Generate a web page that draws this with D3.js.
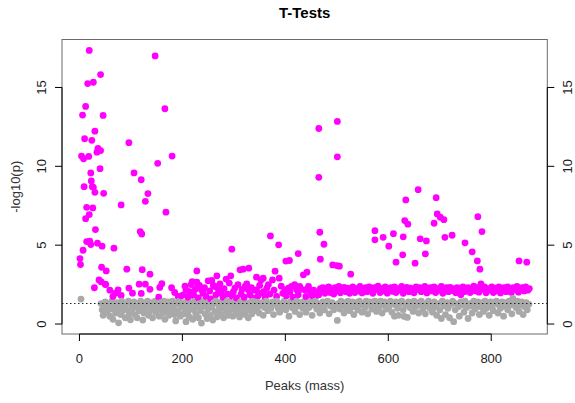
<!DOCTYPE html>
<html><head><meta charset="utf-8">
<script src="https://cdn.jsdelivr.net/npm/d3@7"></script>
<style>html,body{margin:0;padding:0;background:#fff;}svg{display:block;}</style>
</head><body>
<svg id="chart" width="575" height="403"></svg>
<script>
// ---- data ----
const title = "T-Tests";
const xLabel = "Peaks (mass)";
const yLabel = "-log10(p)";
const xTicks = [0, 200, 400, 600, 800];
const yTicks = [0, 5, 10, 15];
const threshold = 1.30103; // -log10(0.05)

// significant peaks, larger effects [peak, -log10(p)]
const sigHigh = [[1,4.15],[2,3.77],[4,10.65],[6,13.25],[7,4.68],[8,10.48],[9,8.71],[10,11.75],[12,13.8],[12,6.68],[14,7.4],[14,5.23],[16,15.25],[18,10.63],[19,17.35],[19,6.94],[20,5.25],[22,9.58],[22,5.04],[23,9.07],[24,11.65],[25,8.71],[26,7.36],[27,15.33],[27,8.67],[29,2.3],[30,12.23],[30,8.35],[31,5.99],[34,10.9],[35,5.13],[36,11.14],[38,2.8],[40,9.85],[41,15.82],[41,11.0],[42,2.68],[43,3.6],[44,4.94],[46,13.23],[47,8.29],[50,2.53],[51,2.5],[52,3.37],[67,4.81],[81,7.55],[92,3.48],[96,11.5],[106,9.58],[118,5.86],[120,9.15],[121,5.71],[122,3.45],[128,7.78],[133,8.27],[137,3.16],[147,17.0],[152,10.19],[166,13.65],[168,7.09],[180,10.65],[228,3.37],[296,4.75],[312,3.44],[318,3.48],[329,3.54],[344,2.97],[357,2.91],[353,2.8],[371,5.59],[375,2.8],[380,3.35],[387,5.02],[388,2.91],[401,3.99],[408,4.03],[425,4.47],[435,3.12],[442,3.29],[465,12.4],[465,9.3],[467,5.82],[468,4.11],[475,5.06],[501,12.85],[501,10.6],[492,3.75],[500,3.71],[505,3.67],[527,3.16],[574,5.92],[574,5.34],[590,5.5],[601,4.94],[610,5.73],[615,3.92],[628,4.39],[629,5.53],[632,6.56],[634,7.87],[638,6.33],[652,3.86],[658,8.52],[662,5.4],[672,4.45],[674,5.27],[689,6.39],[693,8.01],[695,6.98],[701,6.77],[708,6.62],[710,5.5],[724,5.63],[749,5.15],[763,4.58],[773,4.0],[774,6.81],[778,3.48],[782,5.86],[854,4.0],[869,3.92]];

// significant peaks just above the cut-off [peak, -log10(p)]
const sigBand = [[59,2.15],[65,1.75],[70,1.96],[75,2.17],[81,1.81],[96,2.28],[103,1.96],[116,2.53],[120,1.94],[128,2.53],[137,2.2],[154,1.71],[156,2.32],[160,2.56],[179,2.3],[185,2.0],[192,1.75],[198,1.79],[207,2.17],[221,1.96],[228,2.28],
[219,2.68],[228,2.66],[237,2.17],[240,1.96],[250,2.74],[257,2.76],[267,3.06],[263,2.38],[270,2.17],[276,1.96],[285,2.85],[294,3.06],[302,2.28],[322,2.38],[328,2.17],[344,2.17],[354,1.96],[364,2.28],[399,2.17],[406,2.28],[412,2.38],[422,2.17],[428,2.38],[438,2.17],[445,2.38],
[202,1.85],[205,2.4],[211,1.7],[214,2.05],[217,2.5],[222,1.8],[225,2.2],[231,1.65],[233,2.45],[243,2.3],[246,1.75],[253,2.1],[255,1.6],[260,2.45],[265,1.85],[273,2.55],[279,1.7],[281,2.25],[288,1.9],[291,2.6],[297,1.75],[299,2.05],[305,1.65],[308,2.5],[314,1.9],[316,2.2],[320,1.7],[325,2.55],[331,1.85],[334,2.3],[337,1.65],[340,2.15],[347,1.8],[350,2.45],[358,2.05],[361,1.7],[367,2.5],[370,1.9],[378,2.15],[383,1.75],[392,2.4],[395,1.95],[402,1.8],[409,2.05],[415,1.7],[418,2.5],[425,1.85],[431,2.2],[440,1.75],[448,2.1],
[452,1.8],[455,2.15],[458,1.7],[462,2.0],[465,1.85],[468,2.25],
[470,2.1],[473,2.3],[477,1.95],[480,2.2],[484,2.35],[487,2.0],[490,2.25],[494,1.9],[497,2.3],[500,2.1],[504,2.38],[507,1.98],[511,2.2],[514,2.32],[518,2.05],[521,2.28],[525,1.95],[528,2.2],[531,2.35],[535,2.0],[538,2.25],[542,2.1],[545,2.38],[549,1.97],[552,2.22],[556,2.3],[559,2.05],[563,2.35],[566,2.15],[570,1.95],[573,2.3],[577,2.2],[580,2.4],[584,2.0],[587,2.25],[591,2.1],[594,2.36],[598,1.96],[601,2.22],[605,2.3],[608,2.08],[612,2.35],[615,2.0],[619,2.25],[622,2.15],[626,2.38],[629,1.95],[633,2.2],[636,2.32],[640,2.05],[643,2.28],[647,2.15],[650,1.98],[654,2.35],[657,2.2],[661,2.3],[664,2.05],[668,2.25],[671,2.38],[675,1.97],[678,2.2],[682,2.3],[685,2.1],[689,2.35],[692,2.0],[696,2.25],[699,2.15],[703,2.38],[706,1.95],[710,2.22],[713,2.3],[717,2.05],[720,2.33],[724,2.12],[727,2.25],[731,1.98],[734,2.3],[738,2.15],[741,1.85],[745,2.35],[748,2.05],[752,2.25],[755,2.3],[759,2.0],[762,2.2],[766,2.4],[769,2.1],[773,2.3],[776,2.02],[780,2.55],[783,2.2],[787,2.35],[790,1.98],[794,2.25],[797,2.15],[801,2.36],[804,2.0],[808,2.28],[811,2.1],[815,2.35],[818,1.97],[822,2.22],[825,2.3],[829,2.05],[832,2.35],[836,2.15],[839,2.0],[843,2.3],[846,2.2],[850,2.38],[853,2.02],[857,2.25],[860,2.3],[864,2.1],[867,2.35],[871,2.15],[874,2.25]];

// non-significant peaks [peak, -log10(p)]
const nsBand = [[3,1.58],
[42,1.3],[44,0.9],[46,0.55],[48,1.15],[50,1.4],[53,0.75],[55,1.05],[57,1.3],[59,0.5],[61,0.95],[63,1.45],[65,0.3],[67,1.1],[70,0.7],[72,1.35],[74,0.95],[76,0.08],[78,1.2],[80,0.6],[82,1.45],[84,0.85],[86,1.1],[89,0.4],[91,1.3],[93,0.9],[95,1.45],[97,0.65],[99,0.27],[101,1.2],[103,0.95],[106,1.4],[108,0.6],[110,1.1],[112,0.4],[114,1.3],[116,0.85],[119,1.45],[121,1.05],[123,0.25],[125,0.7],[127,1.3],[129,1.0],[132,1.45],[134,0.55],[136,1.15],[138,0.85],[140,1.35],[142,0.4],[144,1.05],[147,1.45],[149,0.75],[151,1.2],[153,0.95],[155,0.5],[157,1.35],[160,1.05],[162,0.7],[164,1.45],[166,0.3],[168,1.15],[170,0.9],[172,1.4],[174,0.55],[177,1.2],[179,0.8],[181,1.45],[183,1.0],[185,0.6],[187,0.2],[190,1.3],[192,0.85],[194,1.45],[196,0.5],[198,1.1],
[201,1.35],[203,0.65],[205,1.0],[207,0.15],[209,1.4],[211,0.8],[213,0.45],[215,1.15],[218,1.35],[220,0.3],[222,0.9],[224,1.45],[226,0.6],[228,1.15],[231,0.4],[233,1.3],[235,0.85],[237,0.06],[239,1.1],[241,1.45],[244,0.65],[246,1.2],[248,0.35],[250,0.95],[252,1.4],[254,0.55],[257,1.1],[259,0.25],[261,1.35],[263,0.8],[265,1.45],[267,0.45],[270,1.2],[272,0.9],[274,0.6],[276,1.4],[278,1.05],[280,0.4],[283,1.3],[285,0.8],[287,1.45],[289,0.55],[291,1.1],[293,0.9],[296,1.35],[298,0.5],[300,1.05],[302,1.45],[304,0.7],[306,1.2],[309,0.95],[311,0.45],[313,1.4],[315,0.75],[317,1.1],[319,1.45],[322,0.6],[324,1.25],[326,0.9],[328,0.4],[330,1.35],[332,1.0],[335,0.65],[337,1.45],[339,0.85],
[341,1.2],[344,0.95],[346,1.4],[349,0.7],[352,1.15],[355,1.35],[357,0.55],[360,1.05],[363,1.45],[366,0.85],[369,1.2],[372,1.0],[375,1.4],[377,0.6],[380,1.25],[383,1.45],[386,1.0],[389,0.75],[392,1.3],[395,1.1],[398,1.45],[401,0.9],[404,1.2],[407,0.5],[410,1.4],[413,1.05],[416,1.3],[419,0.8],[422,1.45],[425,1.15],[428,0.6],[431,1.35],[434,1.0],[437,1.45],[440,0.75],[443,1.25],[446,1.05],[449,1.4],[452,0.55],[455,1.2],[458,1.45],[461,0.95],[464,1.3],[467,0.7],[470,1.1],[473,1.4],[476,0.9],[479,1.25],[482,1.45],[485,0.65],[488,1.15],[491,1.35],[494,0.9],[497,1.2],[501,0.23],
[503,1.3],[506,0.95],[508,1.45],[511,1.15],[514,0.7],[516,1.35],[519,1.05],[522,1.45],[525,0.85],[527,1.2],[530,1.4],[533,0.6],[535,1.1],[538,1.35],[541,0.9],[544,1.45],[546,1.2],[549,0.75],[552,1.3],[555,1.05],[557,1.45],[560,0.65],[563,1.25],[566,1.4],[568,0.95],[571,1.15],[574,1.45],[577,0.8],[579,1.3],[582,1.05],[585,1.45],[588,0.7],[590,1.2],[593,1.4],[596,0.95],[599,1.3],[601,1.1],[604,1.45],[607,0.75],[610,1.25],[612,0.5],[615,1.4],[618,1.0],[620,0.55],[623,1.3],[626,1.45],[629,0.9],[631,0.48],[634,1.2],[637,0.42],[639,1.4],[642,1.05],[645,1.3],[648,0.8],[650,1.45],[653,1.1],[656,1.35],[659,0.7],[661,1.2],[664,1.45],[667,0.95],[670,1.3],[672,0.65],[675,1.15],[678,1.45],[681,1.0],[683,1.3],[686,0.75],[689,1.4],[692,1.1],[694,0.55],[697,1.3],[700,0.9],[703,0.35],[705,1.45],[708,1.15],[711,0.6],[714,1.35],[716,1.0],[719,0.4],[722,1.25],[725,1.45],[727,0.15],[730,0.9],[733,1.3],[736,1.1],[738,0.5],[741,1.4],[744,1.2],[747,0.75],[749,1.45],[752,1.05],[755,0.35],[758,1.3],[760,1.15],[763,0.7],[766,1.45],[769,0.95],[771,1.25],[774,1.4],[777,0.6],[780,1.1],[782,1.35],[785,0.8],[788,1.45],[791,1.0],[793,1.25],[796,0.55],[799,1.4],[802,1.1],[804,0.85],[807,1.35],[810,1.45],[813,0.7],[815,1.2],[818,1.0],[821,1.4],[824,0.5],[826,1.15],[829,1.35],[832,0.9],[835,1.45],[837,1.2],[840,0.65],[842,1.62],[845,1.3],[848,1.05],[851,1.45],[854,0.8],[856,1.2],[859,1.4],[862,0.6],[865,1.1],[868,1.35],[870,0.9],[873,1.25]];

// ---- drawing ----
const SIG_COL = "#FF00FF", NS_COL = "#A9A9A9";
const box = {left: 62, right: 547.3, top: 39.5, bottom: 334};
const FONT = "'Liberation Sans', Arial, sans-serif";

const points = sigHigh.concat(sigBand).map(d => ({x: d[0], y: d[1], col: SIG_COL}))
  .concat(nsBand.map(d => ({x: d[0], y: d[1], col: NS_COL})))
  .sort((a, b) => a.x - b.x);

function pad(ext) { const r = ext[1] - ext[0]; return [ext[0] - 0.04 * r, ext[1] + 0.04 * r]; }
const x = d3.scaleLinear().domain(pad(d3.extent(points, d => d.x))).range([box.left, box.right]);
const y = d3.scaleLinear().domain(pad(d3.extent(points, d => d.y))).range([box.bottom, box.top]);

const svg = d3.select("#chart");
svg.append("rect").attr("width", 575).attr("height", 403).attr("fill", "#fff");

// points
svg.append("g").selectAll("circle").data(points).join("circle")
  .attr("cx", d => x(d.x)).attr("cy", d => y(d.y)).attr("r", 3.4)
  .attr("fill", d => d.col);

// threshold line
svg.append("line")
  .attr("x1", box.left).attr("x2", box.right)
  .attr("y1", y(threshold)).attr("y2", y(threshold))
  .attr("stroke", "#222").attr("stroke-width", 1).attr("stroke-dasharray", "1.5,2.5");

// box
svg.append("rect").attr("x", box.left).attr("y", box.top)
  .attr("width", box.right - box.left).attr("height", box.bottom - box.top)
  .attr("fill", "none").attr("stroke", "#6a6a6a").attr("stroke-width", 1);

// axes
const ax = svg.append("g").attr("stroke", "#000").attr("stroke-width", 1);
ax.append("line").attr("x1", x(xTicks[0])).attr("x2", x(xTicks[xTicks.length-1])).attr("y1", box.bottom).attr("y2", box.bottom);
ax.selectAll(".xt").data(xTicks).join("line").attr("class","xt")
  .attr("x1", d => x(d)).attr("x2", d => x(d)).attr("y1", box.bottom).attr("y2", box.bottom + 7);
[box.left, box.right].forEach((bx, i) => {
  const dir = i === 0 ? -1 : 1;
  ax.append("line").attr("x1", bx).attr("x2", bx).attr("y1", y(yTicks[0])).attr("y2", y(yTicks[yTicks.length-1]));
  ax.selectAll(".yt" + i).data(yTicks).join("line").attr("class", "yt" + i)
    .attr("x1", bx).attr("x2", bx + dir * 7).attr("y1", d => y(d)).attr("y2", d => y(d));
});

const txt = svg.append("g").attr("font-family", FONT).attr("fill", "#1a1a1a");
txt.selectAll(".xl").data(xTicks).join("text").attr("class","xl")
  .attr("x", d => x(d)).attr("y", 362.5).attr("text-anchor", "middle").attr("font-size", 13).text(d => d);
txt.selectAll(".yl").data(yTicks).join("text").attr("class","yl")
  .attr("transform", d => `translate(45.5,${y(d)}) rotate(-90)`)
  .attr("text-anchor", "middle").attr("font-size", 13).text(d => d);
txt.selectAll(".yr").data(yTicks).join("text").attr("class","yr")
  .attr("transform", d => `translate(571.5,${y(d)}) rotate(-90)`)
  .attr("text-anchor", "middle").attr("font-size", 13).text(d => d);

txt.append("text").attr("x", (box.left + box.right) / 2).attr("y", 390.3)
  .attr("text-anchor", "middle").attr("font-size", 13).attr("fill", "#333").text(xLabel);
txt.append("text").attr("transform", `translate(19.5,${(box.top + box.bottom) / 2}) rotate(-90)`)
  .attr("text-anchor", "middle").attr("font-size", 13).attr("fill", "#333").text(yLabel);
txt.append("text").attr("x", (box.left + box.right) / 2).attr("y", 18)
  .attr("text-anchor", "middle").attr("font-size", 15).attr("font-weight", "bold").attr("fill", "#000").text(title);
</script>
</body></html>
